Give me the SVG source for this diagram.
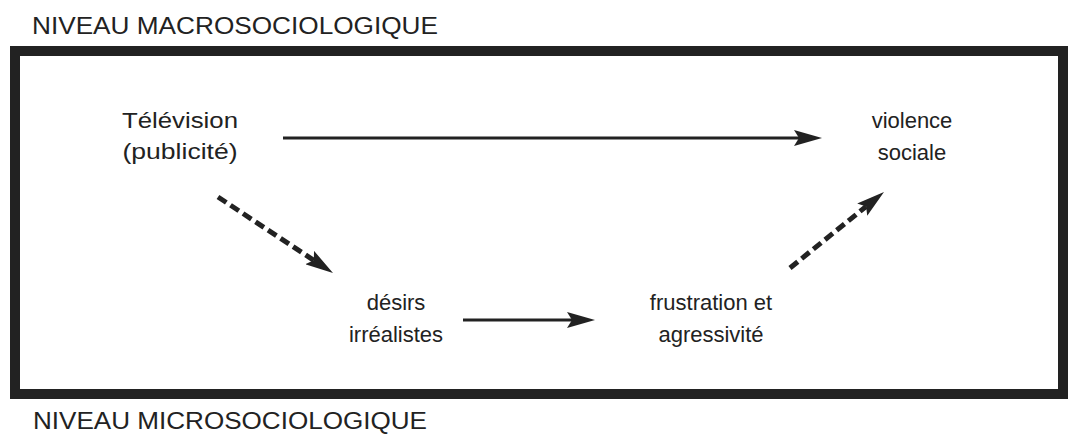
<svg xmlns="http://www.w3.org/2000/svg" width="1068" height="438" viewBox="0 0 1068 438">
<style>
  .t { font-family: "Liberation Sans", Arial, sans-serif; fill: #222; }
  .lvl { font-size: 23px; }
  .n { font-size: 22px; text-anchor: middle; }
  .solid { stroke: #222; stroke-width: 3; fill: none; }
  .dash { stroke: #222; stroke-width: 5; fill: none; stroke-dasharray: 10 5; }
</style>
<defs>
  <marker id="ah" markerUnits="userSpaceOnUse" markerWidth="30" markerHeight="16" refX="5" refY="8" orient="auto" viewBox="0 0 28 16">
    <path d="M0,0 L28,8 L0,16 L5,8 z" fill="#222"/>
  </marker>
</defs>
<rect x="0" y="0" width="1068" height="438" fill="#fff"/>
<text class="t lvl" x="32" y="34" textLength="406" lengthAdjust="spacingAndGlyphs">NIVEAU MACROSOCIOLOGIQUE</text>
<rect x="15" y="51" width="1048" height="343" fill="none" stroke="#222" stroke-width="10"/>
<text class="t lvl" x="33" y="429" textLength="394" lengthAdjust="spacingAndGlyphs">NIVEAU MICROSOCIOLOGIQUE</text>

<g id="tele">
  <text class="t n" x="180" y="128" textLength="116" lengthAdjust="spacingAndGlyphs">Télévision</text>
  <text class="t n" x="180" y="159" textLength="115" lengthAdjust="spacingAndGlyphs">(publicité)</text>
</g>
<g id="violence">
  <text class="t n" x="912" y="128">violence</text>
  <text class="t n" x="912" y="160">sociale</text>
</g>
<g id="desirs">
  <text class="t n" x="396" y="310">désirs</text>
  <text class="t n" x="396" y="342">irréalistes</text>
</g>
<g id="frustration">
  <text class="t n" x="711" y="310">frustration et</text>
  <text class="t n" x="711" y="342">agressivité</text>
</g>

<g id="connectors">
  <line class="solid" x1="283" y1="138" x2="799" y2="138" marker-end="url(#ah)"/>
  <line class="solid" x1="463" y1="320" x2="572" y2="320" marker-end="url(#ah)"/>
  <line class="dash" x1="218" y1="197" x2="313.8" y2="260.3" marker-end="url(#ah)"/>
  <line class="dash" x1="790" y1="268" x2="866.1" y2="206.5" marker-end="url(#ah)"/>
</g>
</svg>
